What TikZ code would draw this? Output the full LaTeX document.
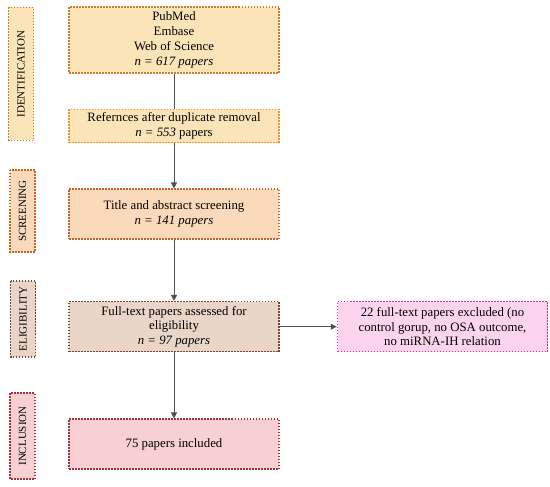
\documentclass[tikz,border=0pt]{standalone}
\usepackage{fontspec}
\setmainfont{Liberation Serif}
\usetikzlibrary{arrows.meta, positioning}
\definecolor{cWheat}{RGB}{251,228,183}
\definecolor{cPeach}{RGB}{250,218,186}
\definecolor{cTan}{RGB}{234,214,200}
\definecolor{cRose}{RGB}{246,208,210}
\definecolor{cPink}{RGB}{253,212,238}
\definecolor{cIdent}{RGB}{200,128,48}
\definecolor{cOrange}{RGB}{246,145,48}
\definecolor{cScreen}{RGB}{196,100,42}
\definecolor{cElig}{RGB}{118,70,50}
\definecolor{cIncl}{RGB}{168,50,60}
\definecolor{cMagenta}{RGB}{225,50,140}
\definecolor{cLine}{RGB}{80,80,80}
\tikzset{
	stagebox/.style={rectangle, minimum width=210pt, text centered, align=center, line width=1.5pt, dash pattern=on 1.5pt off 1.5pt, font=\fontsize{12.8}{14.8}\selectfont},
	sidebox/.style={rectangle, rotate=90, minimum height=25pt, inner sep=0pt, line width=1.5pt, dash pattern=on 1.5pt off 1.5pt, font=\fontsize{11}{13}\selectfont},
	flowline/.style={line width=1pt, draw=cLine},
	flowarrow/.style={-{Triangle[length=6pt, width=6pt]}, line width=1pt, draw=cLine},
}
\begin{document}
\begin{tikzpicture}[x=1pt, y=-1pt]
	\useasboundingbox (0,0) rectangle (550,487);
	% stage labels
	\node[sidebox, fill=cWheat, draw=cIdent, minimum width=133pt] (identLbl) at (21,74) {IDENTIFICATION};
	\node[sidebox, fill=cPeach, draw=cScreen, minimum width=82pt] (screenLbl) at (22.5,211) {SCREENING};
	\node[sidebox, fill=cTan, draw=cElig, minimum width=76pt] (eligLbl) at (23,319) {ELIGIBILITY};
	\node[sidebox, fill=cRose, draw=cIncl, minimum width=86pt] (inclLbl) at (22.5,436) {INCLUSION};
	% main flow
	\node[stagebox, fill=cWheat, draw=cIdent, minimum height=66pt] (search) at (174,40) {PubMed\\ Embase\\ Web of Science\\ \textit{n = 617 papers}};
	\node[stagebox, fill=cWheat, draw=cOrange, minimum height=33pt, below=35pt of search] (dedup) {Refernces after duplicate removal\\ \textit{n = 553} papers};
	\node[stagebox, fill=cPeach, draw=cScreen, minimum height=50pt, below=45pt of dedup] (screen) {Title and abstract screening\\ \textit{n = 141 papers}};
	\node[stagebox, fill=cTan, draw=cElig, minimum height=50pt, below=61pt of screen] (full) {Full-text papers assessed for\\ eligibility\\ \textit{n = 97 papers}};
	\node[stagebox, fill=cRose, draw=cIncl, minimum height=50pt, below=66pt of full] (incl) {75 papers included};
	\node[stagebox, fill=cPink, draw=cMagenta, minimum height=50pt, right=57pt of full] (excl) {22 full-text papers excluded (no\\ control gorup, no OSA outcome,\\ no miRNA-IH relation};
	% connectors
	\draw[flowline] (search) -- (dedup);
	\draw[flowarrow] (dedup) -- (screen);
	\draw[flowarrow] (screen) -- (full);
	\draw[flowarrow] (full) -- (incl);
	\draw[flowarrow] (full) -- (excl);
\end{tikzpicture}
\end{document}
